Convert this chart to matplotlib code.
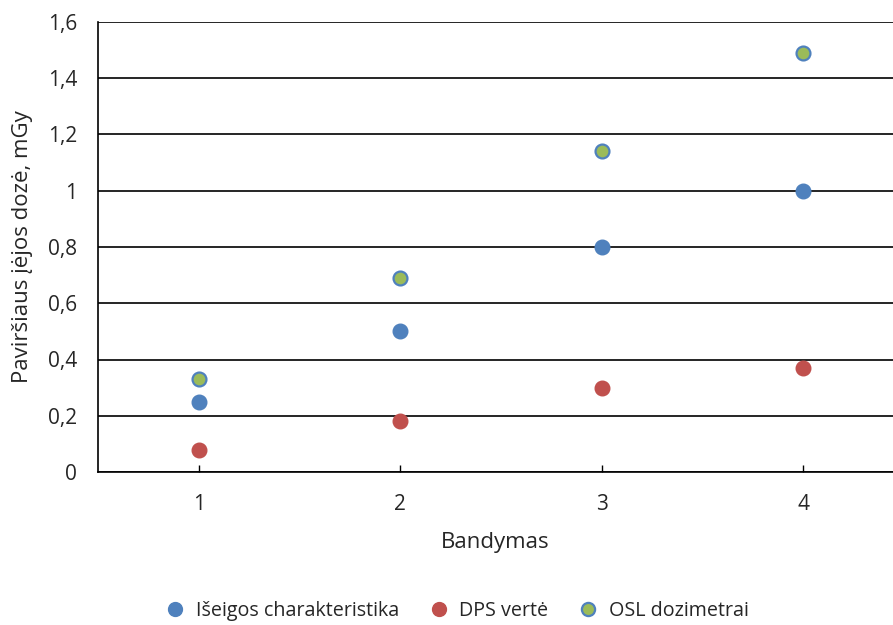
import matplotlib
matplotlib.use("Agg")
import matplotlib.pyplot as plt
from matplotlib.ticker import FuncFormatter, MultipleLocator

# Measurement data
trials = [1, 2, 3, 4]
iseigos = [0.25, 0.50, 0.80, 1.00]
dps = [0.08, 0.18, 0.30, 0.37]
osl = [0.33, 0.69, 1.14, 1.49]

series_names = ["Išeigos charakteristika", "DPS vertė", "OSL dozimetrai"]

plt.rcParams["font.family"] = ["Open Sans", "DejaVu Sans"]

fig = plt.figure(figsize=(8.93, 6.25), dpi=100)
ax = fig.add_axes([98 / 893, 1 - 472 / 625, (893 - 98) / 893, 450 / 625])

blue = "#4F81BD"
red = "#C0504D"
green = "#9BBB59"
text_col = "#262626"

ax.plot(trials, iseigos, "o", color=blue, markersize=10.5, markeredgecolor=blue,
        label=series_names[0], zorder=3, clip_on=False)
ax.plot(trials, dps, "o", color=red, markersize=10.5, markeredgecolor=red,
        label=series_names[1], zorder=3, clip_on=False)
ax.plot(trials, osl, "o", color=green, markersize=10, markeredgecolor=blue,
        markeredgewidth=1.6, label=series_names[2], zorder=3, clip_on=False)

ax.set_xlim(0.5, 0.5 + (893 - 98) / 201.5)
ax.set_ylim(0, 1.6)
ax.yaxis.set_major_locator(MultipleLocator(0.2))
ax.set_xticks(trials)
ax.yaxis.set_major_formatter(
    FuncFormatter(lambda v, p: f"{v:.1f}".rstrip("0").rstrip(".").replace(".", ",")))

ax.grid(axis="y", color="black", linewidth=1.2)
ax.set_axisbelow(True)
for side in ["top", "right"]:
    ax.spines[side].set_visible(False)
ax.spines["left"].set_linewidth(1.2)
ax.spines["bottom"].set_linewidth(1.2)

ax.tick_params(axis="y", length=0, pad=15, labelsize=15, labelcolor=text_col)
ax.tick_params(axis="x", direction="in", length=5, width=1, pad=16,
               labelsize=15, labelcolor=text_col)

ax.set_xlabel("Bandymas", fontsize=16, labelpad=12, color=text_col)
ax.set_ylabel("Paviršiaus įėjos dozė, mGy", fontsize=16, labelpad=11, color=text_col)

fig.legend(loc="center", bbox_to_anchor=(452 / 893, 1 - 611 / 625), ncol=3,
           frameon=False, handletextpad=0.05, columnspacing=1.0,
           markerscale=0.95, prop={"size": 14.2}, labelcolor=text_col)

fig.savefig("out.png", dpi=100)
